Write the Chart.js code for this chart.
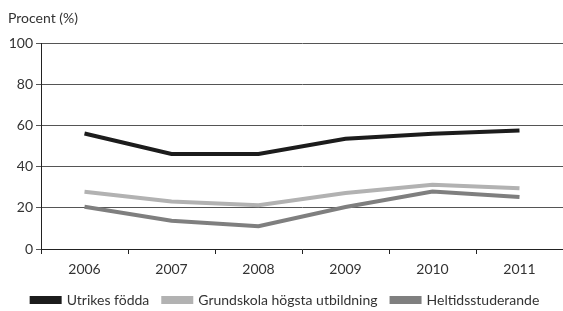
<!DOCTYPE html>
<html>
<head>
<meta charset="utf-8">
<script src="https://cdn.jsdelivr.net/npm/chart.js@4"></script>
<style>
  html, body { margin: 0; padding: 0; background: #fff; }
  #wrap { width: 563px; height: 311px; position: relative; }
</style>
</head>
<body>
<div id="wrap"><canvas id="chart"></canvas></div>
<script>
const years = ['2006', '2007', '2008', '2009', '2010', '2011'];
const utrikesFodda = [56.3, 46.3, 46.3, 53.7, 56.2, 57.8];
const grundskola = [27.9, 23.1, 21.3, 27.3, 31.3, 29.6];
const heltidsstuderande = [20.6, 13.8, 11.1, 20.5, 28.0, 25.4];
const yTicks = [0, 20, 40, 60, 80, 100];

const font = { family: 'Lato, "Open Sans", sans-serif', size: 14 };

function line(label, data, color) {
  return {
    label,
    data,
    borderColor: color,
    backgroundColor: color,
    borderWidth: 4,
    pointRadius: 0,
    tension: 0
  };
}

new Chart(document.getElementById('chart'), {
  type: 'line',
  data: {
    labels: years,
    datasets: [
      line('Utrikes födda', utrikesFodda, '#1c1c1c'),
      line('Grundskola högsta utbildning', grundskola, '#b2b2b2'),
      line('Heltidsstuderande', heltidsstuderande, '#7f7f7f')
    ]
  },
  options: {
    responsive: true,
    maintainAspectRatio: false,
    animation: false,
    layout: { padding: { left: 8, right: 0, top: 0, bottom: -6 } },
    plugins: {
      title: {
        display: true,
        text: 'Procent (%)',
        align: 'start',
        color: '#333',
        font: { ...font, weight: 'normal' },
        padding: { top: 10, bottom: 17 }
      },
      legend: {
        position: 'bottom',
        labels: {
          color: '#333',
          font,
          boxWidth: 28,
          boxHeight: 4,
          padding: 14
        }
      },
      tooltip: { enabled: false }
    },
    scales: {
      x: {
        offset: true,
        border: { color: '#222', width: 1 },
        grid: { drawOnChartArea: false, color: '#222', tickLength: 5, offset: true },
        afterFit: (axis) => { axis.height = 30; },
        ticks: { color: '#333', font, padding: 7, maxRotation: 0 }
      },
      y: {
        min: 0,
        max: 100,
        border: { color: '#222', width: 1 },
        grid: { color: '#555', tickLength: 5 },
        afterBuildTicks: (axis) => { axis.ticks = yTicks.map((v) => ({ value: v })); },
        afterFit: (axis) => { axis.width = 33; },
        ticks: { color: '#333', font, padding: 3 }
      }
    }
  }
});
</script>
</body>
</html>
